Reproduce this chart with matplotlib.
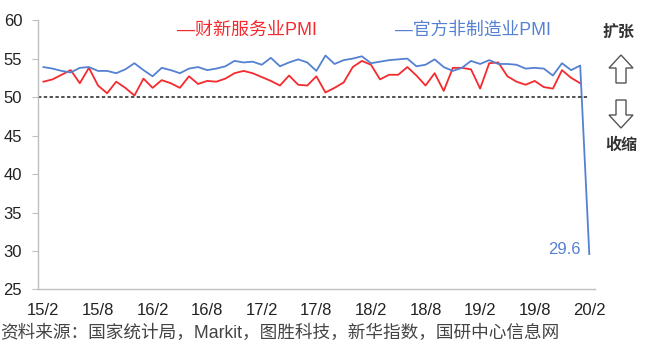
import matplotlib
matplotlib.use("Agg")
import matplotlib.pyplot as plt
from matplotlib.patches import Polygon

plt.rcParams['font.family'] = ['Liberation Sans', 'Noto Sans CJK SC']

# monthly, 2015/2 .. 2020/2
caixin_services = [
    52.0, 52.3, 52.9, 53.5, 51.8, 53.8, 51.5, 50.5, 52.0, 51.2, 50.2,   # 2015
    52.4, 51.2, 52.2, 51.8, 51.2, 52.7, 51.7, 52.1, 52.0, 52.4, 53.1, 53.4,  # 2016
    53.1, 52.6, 52.1, 51.5, 52.8, 51.6, 51.5, 52.7, 50.6, 51.2, 51.9, 53.9,  # 2017
    54.7, 54.2, 52.3, 52.9, 52.9, 53.9, 52.8, 51.5, 53.1, 50.8, 53.8, 53.8,  # 2018
    53.6, 51.1, 54.4, 54.5, 52.7, 52.0, 51.6, 52.1, 51.3, 51.1, 53.5, 52.5,  # 2019
    51.8,                                                                    # 2020/1
]
official_nonmfg = [
    53.9, 53.7, 53.4, 53.2, 53.8, 53.9, 53.4, 53.4, 53.1, 53.6, 54.4,
    53.5, 52.7, 53.8, 53.5, 53.1, 53.7, 53.9, 53.5, 53.7, 54.0, 54.7, 54.5,
    54.6, 54.2, 55.1, 54.0, 54.5, 54.9, 54.5, 53.4, 55.4, 54.3, 54.8, 55.0,
    55.3, 54.4, 54.6, 54.8, 54.9, 55.0, 54.0, 54.2, 54.9, 53.9, 53.4, 53.8,
    54.7, 54.3, 54.8, 54.3, 54.3, 54.2, 53.7, 53.8, 53.7, 52.8, 54.4, 53.5,
    54.1, 29.6,
]
tick_labels = ["15/2", "15/8", "16/2", "16/8", "17/2", "17/8",
               "18/2", "18/8", "19/2", "19/8", "20/2"]

RED = "#F52A2E"
BLUE = "#5581D2"
GRAY = "#BFBFBF"

fig = plt.figure(figsize=(6.5, 3.53), dpi=100)
ax = fig.add_axes([0.0577, 0.180, 0.8573, 0.763])

ax.plot(range(len(caixin_services)), caixin_services, color=RED, lw=1.3)
ax.plot(range(len(official_nonmfg)), official_nonmfg, color=BLUE, lw=1.3)
ax.axhline(50, xmin=0, xmax=0.987, color="#222222", lw=1.1, ls=(0, (2.2, 1.6)))

ax.set_xlim(-0.65, 60.6)
ax.set_ylim(25, 60)
ax.set_yticks(range(25, 61, 5))
ax.set_xticks(range(0, 61, 6))
ax.set_xticklabels(tick_labels)

for s in ("top", "right"):
    ax.spines[s].set_visible(False)
for s in ("left", "bottom"):
    ax.spines[s].set_color(GRAY)
    ax.spines[s].set_linewidth(1.0)
ax.tick_params(axis="y", length=4, color=GRAY, pad=7, labelsize=12, labelcolor="#222222")
ax.tick_params(axis="x", length=0, pad=10, labelsize=12, labelcolor="#222222")

last = len(official_nonmfg) - 1
ax.annotate(f"{official_nonmfg[last]}", xy=(last, official_nonmfg[last]),
            xytext=(-6.5, 3), textcoords="offset points",
            ha="right", va="center", color=BLUE, fontsize=12)

# legend as text
fig.text(177 / 650, 1 - 30 / 353, "—财新服务业PMI", color=RED, fontsize=13,
         ha="left", va="center")
fig.text(395 / 650, 1 - 30 / 353, "—官方非制造业PMI", color=BLUE, fontsize=12.8,
         ha="left", va="center")

# expansion / contraction markers
fig.text(619 / 650, 1 - 32 / 353, "扩张", fontsize=11.5, fontweight="bold",
         color="#333333", ha="center", va="center")
fig.text(621 / 650, 1 - 145 / 353, "收缩", fontsize=11.5, fontweight="bold",
         color="#333333", ha="center", va="center")


def block_arrow(cx, tip, base, up):
    # pixel coords, origin top-left
    d = 1 if up else -1
    head = tip + d * 13
    pts = [(cx, tip), (cx + 12, head), (cx + 5, head), (cx + 5, base),
           (cx - 5, base), (cx - 5, head), (cx - 12, head)]
    pts = [(x / 100, (353 - y) / 100) for x, y in pts]
    fig.patches.append(Polygon(pts, closed=True, facecolor="white",
                               edgecolor="#555555", lw=1.0,
                               transform=fig.dpi_scale_trans))


block_arrow(621, 55, 83, True)
block_arrow(621, 128, 100, False)

fig.text(0, 1 - 333 / 353, "资料来源：国家统计局，Markit，图胜科技，新华指数，国研中心信息网",
         fontsize=12.7, color="#444444", ha="left", va="center")

fig.savefig("out.png", dpi=100)
